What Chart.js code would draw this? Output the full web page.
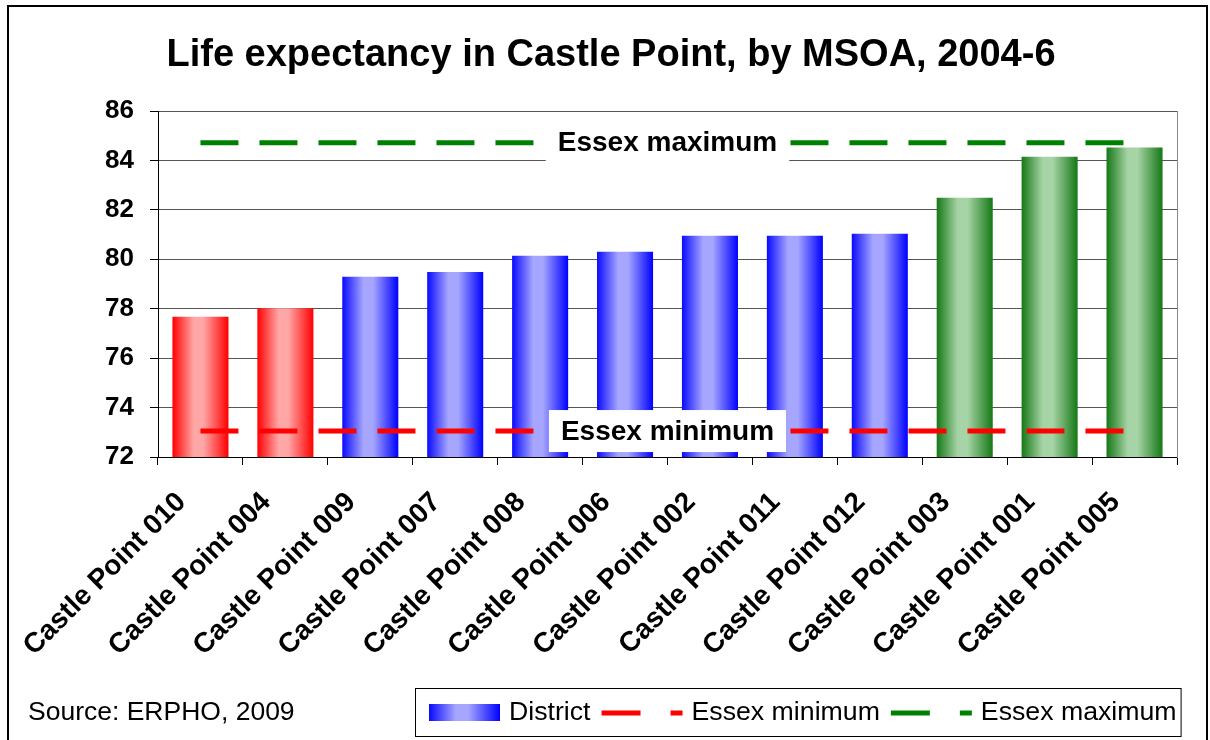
<!DOCTYPE html>
<html>
<head>
<meta charset="utf-8">
<script src="https://cdn.jsdelivr.net/npm/chart.js@4.4.1/dist/chart.umd.min.js"></script>
<style>
body { margin: 0; background: #fff; }
</style>
</head>
<body>
<canvas id="myChart" width="1210" height="740"></canvas>
<script>
const chartTitle = 'Life expectancy in Castle Point, by MSOA, 2004-6';
const sourceNote = 'Source: ERPHO, 2009';

const areas = ['Castle Point 010', 'Castle Point 004', 'Castle Point 009', 'Castle Point 007',
    'Castle Point 008', 'Castle Point 006', 'Castle Point 002', 'Castle Point 011',
    'Castle Point 012', 'Castle Point 003', 'Castle Point 001', 'Castle Point 005'];
const lifeExpectancy = [77.67, 78.02, 79.29, 79.49, 80.14, 80.30, 80.95, 80.95, 81.03, 82.49, 84.15, 84.52];
// which colour band each bar falls in
const band = ['low', 'low', 'mid', 'mid', 'mid', 'mid', 'mid', 'mid', 'mid', 'high', 'high', 'high'];
const essexMinimum = [73.05, 73.05, 73.05, 73.05, 73.05, 73.05, 73.05, 73.05, 73.05, 73.05, 73.05, 73.05];
const essexMaximum = [84.72, 84.72, 84.72, 84.72, 84.72, 84.72, 84.72, 84.72, 84.72, 84.72, 84.72, 84.72];
const yMin = 72, yMax = 86, yStep = 2;

const FONT = '"Liberation Sans", Arial, sans-serif';
const barPct = 0.66;
const bandColours = {
    low: ['#ff0000', '#ffa6a6', '#ff0000'],
    mid: ['#0a0aff', '#a6a6ff', '#0000ff'],
    high: ['#157815', '#a7d4a7', '#157815']
};

function bandGradient(ctx, key, x0, x1) {
    let c = bandColours[key];
    let g = ctx.createLinearGradient(x0, 0, x1, 0);
    g.addColorStop(0, c[0]);
    g.addColorStop(0.38, c[1]);
    g.addColorStop(0.55, c[1]);
    g.addColorStop(1, c[2]);
    return g;
}

function barFill(c) {
    let chart = c.chart;
    let key = band[c.dataIndex] || 'mid';
    if (!chart.chartArea || c.dataIndex === undefined) return bandColours[key][0];
    let x = chart.scales.x.getPixelForValue(c.dataIndex);
    let half = chart.chartArea.width / areas.length * barPct / 2;
    return bandGradient(chart.ctx, key, x - half, x + half);
}

const decorations = {
    id: 'decorations',
    afterDatasetsDraw(chart) {
        let { ctx, chartArea, scales } = chart;
        let cx = (chartArea.left + chartArea.right) / 2;
        ctx.save();
        ctx.font = 'bold 28px ' + FONT;
        ctx.textAlign = 'center';
        ctx.textBaseline = 'middle';
        chart.data.datasets.forEach(ds => {
            if (ds.type !== 'line') return;
            let y = scales.y.getPixelForValue(ds.data[0]);
            let w = ctx.measureText(ds.label).width + 24;
            ctx.fillStyle = '#fff';
            ctx.fillRect(cx - w / 2, y - 21, w, 42);
            ctx.fillStyle = '#000';
            ctx.fillText(ds.label, cx, y + 1);
        });
        ctx.restore();
    },
    afterDraw(chart) {
        let ctx = chart.ctx;
        ctx.save();

        // source note
        ctx.font = '26.5px ' + FONT;
        ctx.fillStyle = '#000';
        ctx.textBaseline = 'middle';
        ctx.textAlign = 'left';
        ctx.fillText(sourceNote, 28, 713);

        // legend
        let sets = chart.data.datasets;
        let bar = sets.find(d => d.type === 'bar');
        let lines = sets.filter(d => d.type === 'line');
        let y = 713;
        let x = 429;
        ctx.font = '26.7px ' + FONT;
        ctx.fillStyle = bandGradient(ctx, 'mid', x, x + 71);
        ctx.fillRect(x, y - 9, 71, 17);
        x += 80;
        ctx.fillStyle = '#000';
        ctx.fillText(bar.label, x, y);
        x += ctx.measureText(bar.label).width + 11;
        lines.forEach(ds => {
            ctx.save();
            ctx.strokeStyle = ds.borderColor;
            ctx.lineWidth = ds.borderWidth;
            ctx.setLineDash([39, 30]);
            ctx.beginPath();
            ctx.moveTo(x, y);
            ctx.lineTo(x + 81, y);
            ctx.stroke();
            ctx.restore();
            x += 90;
            ctx.fillText(ds.label, x, y);
            x += ctx.measureText(ds.label).width + 11;
        });
        ctx.strokeStyle = '#000';
        ctx.lineWidth = 1;
        ctx.strokeRect(415.5, 688.5, x - 415 - 7, 48);

        // outer frame
        ctx.lineWidth = 2;
        ctx.strokeRect(8, 6, 1199, 740);
        ctx.restore();
    }
};

Chart.defaults.font.family = FONT;
Chart.defaults.color = '#000';

const ctx = document.getElementById('myChart').getContext('2d');
const myChart = new Chart(ctx, {
    type: 'bar',
    data: {
        labels: areas,
        datasets: [
            {
                type: 'line',
                label: 'Essex minimum',
                data: essexMinimum,
                borderColor: '#ff0000',
                borderWidth: 5,
                borderDash: [38, 21],
                pointRadius: 0,
                fill: false,
                order: 0
            },
            {
                type: 'line',
                label: 'Essex maximum',
                data: essexMaximum,
                borderColor: '#008000',
                borderWidth: 5,
                borderDash: [38, 21],
                pointRadius: 0,
                fill: false,
                order: 1
            },
            {
                type: 'bar',
                label: 'District',
                data: lifeExpectancy,
                backgroundColor: barFill,
                borderWidth: 0,
                barPercentage: barPct,
                categoryPercentage: 1,
                order: 2
            }
        ]
    },
    options: {
        responsive: false,
        animation: false,
        layout: { padding: { left: 22, right: 10, top: 0, bottom: 0 } },
        plugins: {
            legend: { display: false },
            tooltip: { enabled: false },
            title: {
                display: true,
                text: chartTitle,
                color: '#000',
                font: { size: 38, weight: 'bold' },
                padding: { top: 33, bottom: 32.4 }
            }
        },
        scales: {
            x: {
                grid: { offset: true, drawOnChartArea: false, tickLength: 8, color: '#000' },
                border: { color: '#000' },
                ticks: {
                    autoSkip: false,
                    minRotation: 45,
                    maxRotation: 45,
                    padding: 21,
                    labelOffset: -19,
                    font: { size: 28, weight: 'bold' }
                },
                afterFit: s => { s.height = 283; }
            },
            y: {
                min: yMin,
                max: yMax,
                ticks: { stepSize: yStep, padding: 16, font: { size: 26, weight: 'bold' } },
                grid: { color: '#555', tickColor: '#000', tickLength: 8 },
                border: { color: '#000' },
                afterFit: s => { s.width = 136; }
            },
            yRight: {
                type: 'linear',
                position: 'right',
                min: yMin,
                max: yMax,
                ticks: { display: false },
                grid: { drawOnChartArea: false, drawTicks: false },
                border: { color: '#888' },
                afterFit: s => { s.width = 23; }
            }
        }
    },
    plugins: [decorations]
});
</script>
</body>
</html>
